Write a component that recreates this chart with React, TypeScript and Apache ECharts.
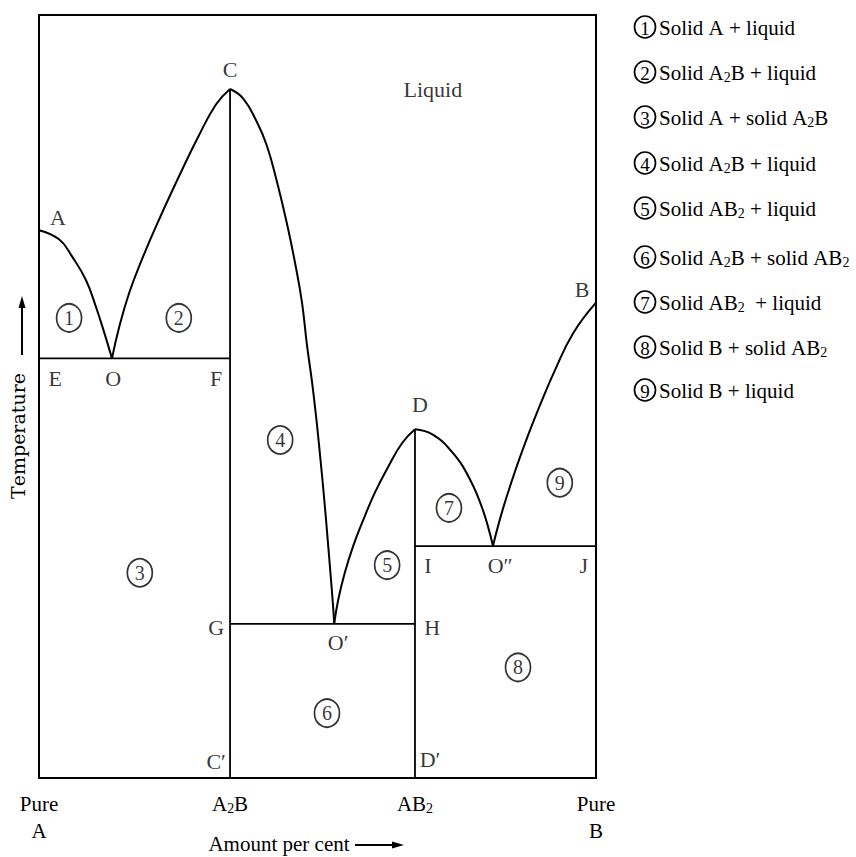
import React, { useEffect, useRef } from 'react';
import * as echarts from 'echarts';

// ---- data (composition % of B, temperature in arbitrary units) ----
const A2B = 34.3;
const AB2 = 67.5;

const xTickValues = [0, A2B, AB2, 100];
const xTickLabels = ['{n|Pure}\n{n|A}', '{n|A}{s|2}{n|B}', '{n|AB}{s|2}', '{n|Pure}\n{n|B}'];

const curveAO = [[0, 71.8], [3.6, 70.6], [5.9, 68.4], [8.4, 65.3], [10.2, 61.8], [11.7, 58.4], [13.1, 55.0]];
const curveOC = [[13.1, 55.0], [14.4, 59.1], [16.2, 63.6], [18.5, 68.0], [21.5, 73.1], [25.1, 78.8], [28.7, 84.2], [31.8, 88.3], [34.3, 90.3]];
const curveCO1 = [[34.3, 90.3], [36.6, 89.1], [39.1, 86.0], [40.9, 82.9], [42.7, 78.2], [44.5, 72.7], [46.0, 67.4], [47.2, 62.4], [48.1, 56.8], [49.0, 52.0], [49.8, 47.0], [50.5, 42.0], [51.2, 36.6], [51.8, 31.5], [52.4, 26.2], [52.8, 22.5], [53.0, 20.2]];
const curveO1D = [[53.0, 20.2], [53.7, 23.3], [54.9, 26.9], [56.4, 30.4], [58.2, 33.8], [60.3, 37.4], [62.7, 40.8], [65.2, 43.9], [67.5, 45.7]];
const curveDO2 = [[67.5, 45.7], [70.7, 45.0], [74.3, 42.6], [77.4, 39.1], [79.7, 35.1], [81.5, 30.4]];
const curveO2B = [[81.5, 30.4], [83.3, 35.3], [85.8, 40.9], [88.0, 45.3], [90.3, 49.5], [92.6, 53.4], [95.9, 58.3], [100, 62.3]];

const straightLines = [
  [[0, 55.0], [A2B, 55.0]],        // E-F
  [[A2B, 20.2], [AB2, 20.2]],      // G-H
  [[AB2, 30.4], [100, 30.4]],      // I-J
  [[A2B, 90.3], [A2B, 0]],         // C-C'
  [[AB2, 45.7], [AB2, 0]],         // D-D'
];

const pointLabelNames = ['A', 'C', 'Liquid', 'B', 'D', 'E', 'O', 'F', 'G', 'C\u2032', 'O\u2032', 'H', 'D\u2032', 'I', 'O\u2033', 'J'];
const pointLabelX = [3.4, 34.3, 70.7, 97.5, 68.4, 2.9, 13.3, 31.8, 31.8, 31.8, 53.7, 70.6, 70.2, 69.8, 82.8, 97.8];
const pointLabelY = [73.5, 92.9, 90.3, 64.0, 48.9, 52.4, 52.4, 52.4, 19.7, 2.1, 17.7, 19.7, 2.4, 27.9, 27.9, 27.9];

const regionNumbers = ['1', '2', '3', '4', '5', '6', '7', '8', '9'];
const regionX = [5.4, 25.1, 18.1, 43.3, 62.5, 51.7, 73.6, 86.0, 93.5];
const regionY = [60.3, 60.3, 26.9, 44.3, 27.9, 8.5, 35.4, 14.5, 38.7];

const legendTexts = [
  '{n|Solid A + liquid}',
  '{n|Solid A}{s|2}{n|B + liquid}',
  '{n|Solid A + solid A}{s|2}{n|B}',
  '{n|Solid A}{s|2}{n|B + liquid}',
  '{n|Solid AB}{s|2}{n|\u00a0+ liquid}',
  '{n|Solid A}{s|2}{n|B + solid AB}{s|2}',
  '{n|Solid AB}{s|2}{n|\u00a0\u00a0+ liquid}',
  '{n|Solid B + solid AB}{s|2}',
  '{n|Solid B + liquid}',
];

const yAxisTitle = 'Temperature';
const xAxisTitle = 'Amount per cent';

// ---- layout / style ----
const SERIF = '"Liberation Serif", "Times New Roman", serif';
const INK = '#000';
const legendRowY = [27, 72, 117, 163, 208, 257, 302, 347, 390];
const richText = {
  n: { fontSize: 21, fontFamily: SERIF, color: INK, lineHeight: 24 },
  s: { fontSize: 14, fontFamily: SERIF, color: INK, lineHeight: 16, padding: [9, 0, 0, 0] },
};

export default function App() {
  const ref = useRef<HTMLDivElement>(null);
  useEffect(() => {
    if (!ref.current) return;
    const chart = echarts.init(ref.current, undefined, { renderer: 'svg' });
    const curves = [curveAO, curveOC, curveCO1, curveO1D, curveDO2, curveO2B];
    const lineSeries: any[] = curves.map((c) => ({
      type: 'line',
      data: c,
      symbol: 'none',
      smooth: 0.45,
      silent: true,
      lineStyle: { color: INK, width: 2 },
    }));
    const straightSeries: any[] = straightLines.map((l) => ({
      type: 'line',
      data: l,
      symbol: 'none',
      silent: true,
      lineStyle: { color: INK, width: 1.8 },
    }));

    const legendGraphics: any[] = [];
    legendTexts.forEach((t, i) => {
      legendGraphics.push({
        type: 'ellipse',
        shape: { cx: 645, cy: legendRowY[i], rx: 10.5, ry: 11 },
        style: { fill: 'none', stroke: INK, lineWidth: 1.7 },
        silent: true,
      });
      legendGraphics.push({
        type: 'text',
        x: 645,
        y: legendRowY[i] + 1,
        style: { text: regionNumbers[i], fontSize: 19, fontFamily: SERIF, fill: INK, align: 'center', verticalAlign: 'middle' },
        silent: true,
      });
      legendGraphics.push({
        type: 'text',
        x: 659,
        y: legendRowY[i] + 1,
        style: { text: t, rich: richText, fontSize: 21, fontFamily: SERIF, fill: INK, align: 'left', verticalAlign: 'middle' },
        silent: true,
      });
    });

    const option: any = {
      animation: false,
      backgroundColor: '#fff',
      grid: { left: 39, top: 15, width: 557, height: 763, show: true, borderColor: INK, borderWidth: 2, backgroundColor: 'transparent' },
      xAxis: {
        type: 'value', min: 0, max: 100,
        axisLine: { show: false }, axisTick: { show: false }, splitLine: { show: false },
        axisLabel: {
          customValues: xTickValues,
          margin: 12,
          formatter: (v: number) => {
            const i = xTickValues.findIndex((x) => Math.abs(x - v) < 0.01);
            return i >= 0 ? xTickLabels[i] : '';
          },
          rich: { n: { ...richText.n, lineHeight: 27 }, s: richText.s },
        },
      },
      yAxis: {
        type: 'value', min: 0, max: 100,
        axisLine: { show: false }, axisTick: { show: false }, splitLine: { show: false }, axisLabel: { show: false },
      },
      series: [
        ...lineSeries,
        ...straightSeries,
        {
          type: 'scatter',
          silent: true,
          symbolSize: 1,
          itemStyle: { color: 'rgba(0,0,0,0)' },
          data: pointLabelNames.map((n, i) => ({ name: n, value: [pointLabelX[i], pointLabelY[i]] })),
          label: { show: true, position: 'inside', formatter: '{b}', fontSize: 22, fontFamily: SERIF, color: INK },
        },
        {
          type: 'scatter',
          silent: true,
          symbol: 'circle',
          symbolSize: [25, 28],
          itemStyle: { color: 'rgba(255,255,255,0)', borderColor: INK, borderWidth: 1.8 },
          data: regionNumbers.map((n, i) => ({ name: n, value: [regionX[i], regionY[i]] })),
          label: { show: true, position: 'inside', formatter: '{b}', fontSize: 20, fontFamily: SERIF, color: INK },
        },
      ],
      graphic: [
        ...legendGraphics,
        {
          type: 'text', x: 18, y: 436, rotation: Math.PI / 2, silent: true,
          style: { text: yAxisTitle, fontSize: 19, fontFamily: '"DejaVu Serif", serif', fill: INK, align: 'center', verticalAlign: 'middle' },
        },
        { type: 'line', shape: { x1: 22, y1: 355, x2: 22, y2: 306 }, style: { stroke: INK, lineWidth: 2 }, silent: true },
        { type: 'polygon', shape: { points: [[22, 296], [18.5, 308], [25.5, 308]] }, style: { fill: INK }, silent: true },
        {
          type: 'text', x: 279, y: 844, silent: true,
          style: { text: xAxisTitle, fontSize: 21, fontFamily: SERIF, fill: INK, align: 'center', verticalAlign: 'middle' },
        },
        { type: 'line', shape: { x1: 355, y1: 845, x2: 393, y2: 845 }, style: { stroke: INK, lineWidth: 2 }, silent: true },
        { type: 'polygon', shape: { points: [[404, 845], [392, 841.5], [392, 848.5]] }, style: { fill: INK }, silent: true },
      ],
    };
    chart.setOption(option);
    return () => chart.dispose();
  }, []);
  return (
    <div
      ref={ref}
      style={{ position: 'absolute', left: 0, top: 0, width: 856, height: 857, fontKerning: 'none' } as any}
    />
  );
}
